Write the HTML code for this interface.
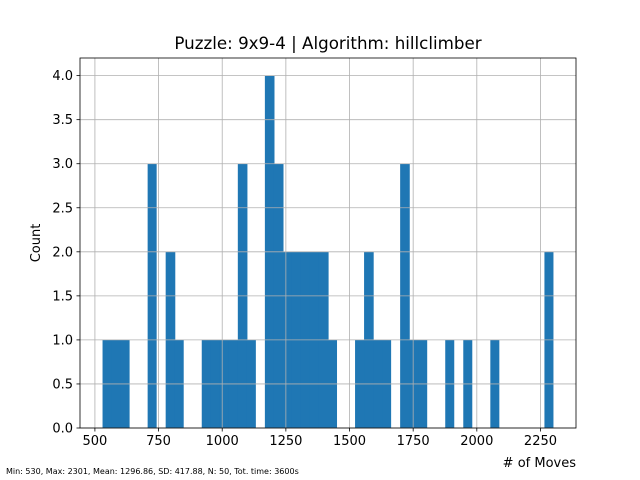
<!DOCTYPE html>
<html><head><meta charset="utf-8"><style>body{margin:0;background:#fff}svg{display:block;font-family:"DejaVu Sans","Liberation Sans",sans-serif}</style></head>
<body>
<svg id="c" width="640" height="480"></svg>
<script>
const binStart = 530;
const binEnd = 2301;
const counts = [1,1,1,0,0,3,0,2,1,0,0,1,1,1,1,3,1,0,4,3,2,2,2,2,2,1,0,0,1,2,1,1,0,3,1,1,0,0,1,0,1,0,0,1,0,0,0,0,0,2];
const xTicks = [500,750,1000,1250,1500,1750,2000,2250];
const yTicks = [0,0.5,1,1.5,2,2.5,3,3.5,4];
const L=80,R=576,T=58,B=428;
const span=binEnd-binStart, xmin=binStart-span*0.05, xmax=binEnd+span*0.05;
const ymax=Math.max(...counts)*1.05;
const X=v=>L+(v-xmin)/(xmax-xmin)*(R-L);
const Y=v=>B-v/ymax*(B-T);
const s=document.getElementById('c');const NS='http://www.w3.org/2000/svg';
function mk(t,a,p){const e=document.createElementNS(NS,t);for(const k in a)e.setAttribute(k,a[k]);(p||s).appendChild(e);return e;}
const bw=span/counts.length;
const bars=mk('g',{});


counts.forEach((c,i)=>{if(!c)return;const x0=X(binStart+i*bw),x1=X(binStart+(i+1)*bw);
const nextFilled=i+1<counts.length&&counts[i+1]>0;
const r=mk('rect',{x:x0,y:Y(c),width:x1-x0+(nextFilled?0.6:0),height:B-Y(c),fill:'#1f77b4'},bars);

});
const g=mk('g',{stroke:'#b0b0b0','stroke-width':0.8});


xTicks.forEach(v=>{mk('line',{x1:X(v),x2:X(v),y1:T,y2:B},g);
mk('line',{x1:X(v),x2:X(v),y1:B,y2:B+3.5,stroke:'#000','stroke-width':0.8});
const t=mk('text',{x:X(v),y:B+17,'text-anchor':'middle','font-size':13});t.textContent=v;

});
yTicks.forEach(v=>{mk('line',{x1:L,x2:R,y1:Y(v),y2:Y(v)},g);
mk('line',{x1:L-3.5,x2:L,y1:Y(v),y2:Y(v),stroke:'#000','stroke-width':0.8});
const t=mk('text',{x:L-7,y:Y(v)+4.5,'text-anchor':'end','font-size':13});t.textContent=v.toFixed(1);

});
const fr=mk('rect',{x:L,y:T,width:R-L,height:B-T,fill:'none',stroke:'#000','stroke-width':0.8});


let t=mk('text',{x:328,y:49,'text-anchor':'middle','font-size':16.7});t.textContent='Puzzle: 9x9-4 | Algorithm: hillclimber';


t=mk('text',{x:576,y:467,'text-anchor':'end','font-size':13});t.textContent='# of Moves';


t=mk('text',{x:0,y:0,'text-anchor':'middle','font-size':13,transform:'translate(40,243) rotate(-90)'});t.textContent='Count';


t=mk('text',{x:6,y:474,'font-size':8});t.textContent='Min: 530, Max: 2301, Mean: 1296.86, SD: 417.88, N: 50, Tot. time: 3600s';


</script>
</body></html>
